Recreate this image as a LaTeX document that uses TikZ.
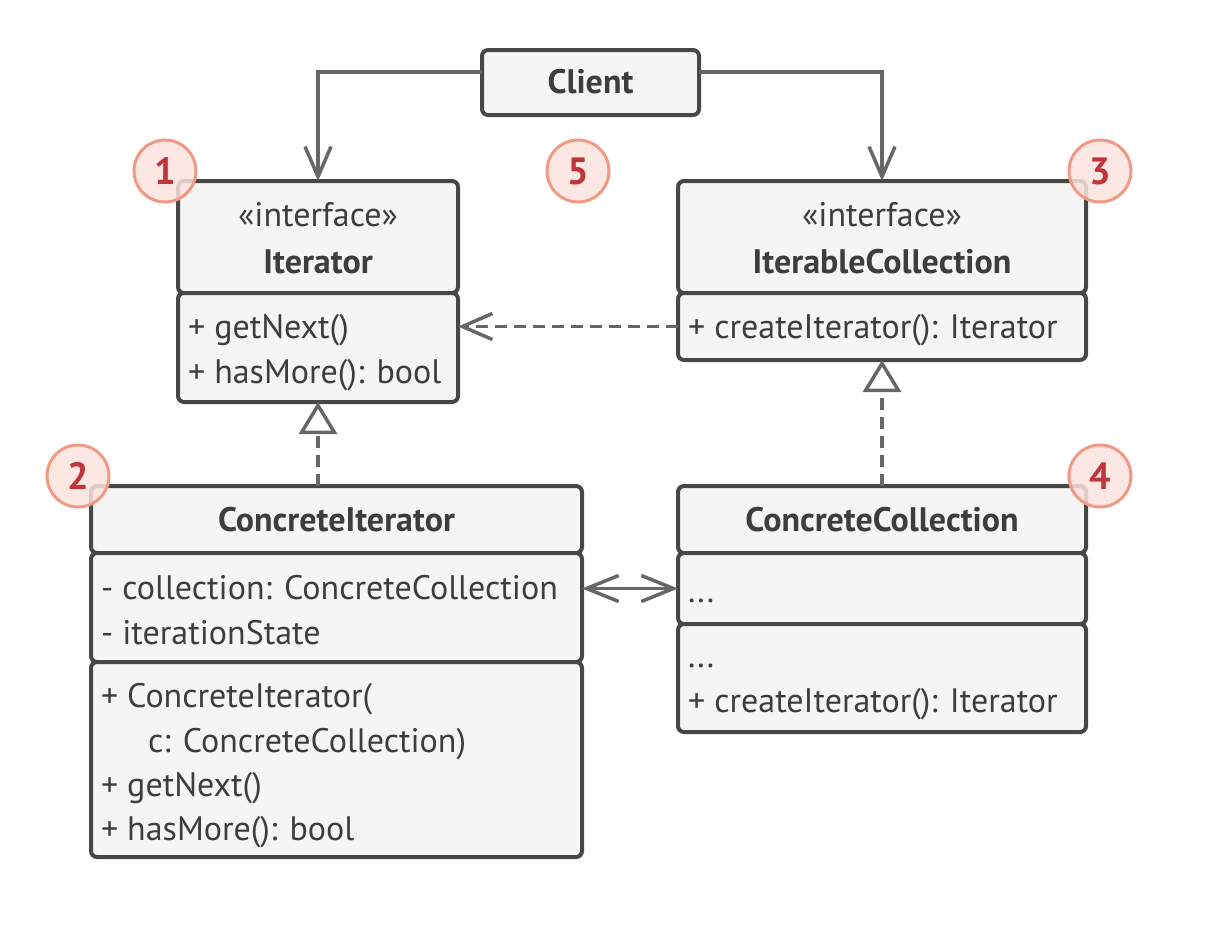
\documentclass[tikz,border=0pt]{standalone}
\usepackage{fontspec}
\setmainfont{PT Sans}
\usetikzlibrary{arrows.meta,calc}
\definecolor{boxline}{HTML}{474747}
\definecolor{boxfill}{HTML}{F5F5F5}
\definecolor{wire}{HTML}{666666}
\definecolor{txt}{HTML}{3D3D3D}
\definecolor{badgefill}{HTML}{FBE3DD}
\definecolor{badgeline}{HTML}{F09A85}
\definecolor{badgetxt}{HTML}{C0353A}
\begin{document}
\begin{tikzpicture}[x=1pt,y=-1pt,
  every node/.style={inner sep=0pt, outer sep=0pt, font=\fontsize{34}{45}\selectfont, text=txt},
  part/.style={draw=boxline, fill=boxfill, line width=4pt, rounded corners=6pt, anchor=north west},
  txtl/.style={anchor=base west},
  txtc/.style={anchor=base},
  ttl/.style={anchor=base, font=\fontsize{34}{45}\bfseries\selectfont},
  badge/.style={circle, draw=badgeline, fill=badgefill, fill opacity=0.85, text opacity=1,
    line width=3pt, minimum size=62pt, font=\fontsize{38}{38}\bfseries\selectfont, text=badgetxt},
  wireline/.style={draw=wire, line width=3.5pt},
  dashline/.style={wireline, dash pattern=on 12pt off 7pt},
  openhead/.style={-{Straight Barb[length=30pt,width=26pt]}},
  realize/.style={-{Triangle[open,length=32pt,width=38pt,fill=white]}},
  bothheads/.style={{Straight Barb[length=32pt,width=26pt]}-{Straight Barb[length=32pt,width=26pt]}}
]
\useasboundingbox (0,0) rectangle (1228,932);

% Client
\node[part, minimum width=217pt, minimum height=65pt] (client) at (482,50) {};
\node[ttl] (clientt) at (client.center) [yshift=-11pt] {Client};

% Iterator interface
\node[part, minimum width=280pt, minimum height=112pt] (ithead) at (178,181) {};
\node[part, minimum width=280pt, minimum height=109pt] (itmeth) at (178,293) {};
\node[txtc] (it1) at (318,226) {«interface»};
\node[ttl] (it2) at (318,273) {Iterator};
\node[txtl] (it3) at (188,338) {+ getNext()};
\node[txtl] (it4) at (188,383) {+ hasMore(): bool};

% IterableCollection interface
\node[part, minimum width=408pt, minimum height=112pt] (ichead) at (678,181) {};
\node[part, minimum width=408pt, minimum height=67pt] (icmeth) at (678,293) {};
\node[txtc] (ic1) at (882,226) {«interface»};
\node[ttl] (ic2) at (882,273) {IterableCollection};
\node[txtl] (ic3) at (688,338) {+ createIterator(): Iterator};

% ConcreteIterator
\node[part, minimum width=491pt, minimum height=67pt] (cihead) at (91,486) {};
\node[part, minimum width=491pt, minimum height=109pt] (cifields) at (91,553) {};
\node[part, minimum width=491pt, minimum height=195pt] (cimeth) at (91,662) {};
\node[ttl] (ci1) at (336.5,531) {ConcreteIterator};
\node[txtl] (ci2) at (101,599) {- collection: ConcreteCollection};
\node[txtl] (ci3) at (101,644) {- iterationState};
\node[txtl] (ci4) at (101,707) {+ ConcreteIterator(};
\node[txtl] (ci5) at (148,752) {c: ConcreteCollection)};
\node[txtl] (ci6) at (101,796) {+ getNext()};
\node[txtl] (ci7) at (101,840) {+ hasMore(): bool};

% ConcreteCollection
\node[part, minimum width=408pt, minimum height=67pt] (cchead) at (678,486) {};
\node[part, minimum width=408pt, minimum height=71pt] (ccfields) at (678,553) {};
\node[part, minimum width=408pt, minimum height=108pt] (ccmeth) at (678,624) {};
\node[ttl] (cc1) at (882,531) {ConcreteCollection};
\node[txtl] (cc2) at (688,602) {...};
\node[txtl] (cc3) at (688,667) {...};
\node[txtl] (cc4) at (688,712) {+ createIterator(): Iterator};

% Connectors
\coordinate (cl) at ([yshift=10.5pt]client.west);
\coordinate (cr) at ([yshift=10.5pt]client.east);
\draw[wireline, openhead] (cl) -| (ithead.north);
\draw[wireline, openhead] (cr) -| (ichead.north);
\draw[dashline, openhead] (icmeth.west) -- (icmeth.west -| itmeth.east);
\draw[dashline, realize] (cihead.north -| itmeth.south) -- (itmeth.south);
\draw[dashline, realize] (cchead.north) -- (icmeth.south);
\draw[wireline, bothheads] (ccfields.west -| cifields.east) -- (ccfields.west);

% Numbered badges
\node[badge] (b1) at (165,171) {1};
\node[badge] (b2) at (78,476) {2};
\node[badge] (b3) at (1100,171) {3};
\node[badge] (b4) at (1100,476) {4};
\node[badge] (b5) at (578,171) {5};
\end{tikzpicture}
\end{document}
